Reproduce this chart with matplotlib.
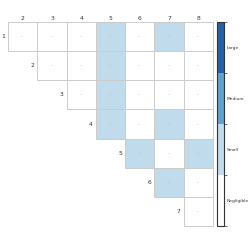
import numpy as np
import matplotlib
matplotlib.use("Agg")
import matplotlib.pyplot as plt
from matplotlib.colors import ListedColormap, BoundaryNorm
from matplotlib.patches import Rectangle

row_labels = ["1", "2", "3", "4", "5", "6", "7"]
col_labels = ["2", "3", "4", "5", "6", "7", "8"]
levels = ["Negligible", "Small", "Medium", "Large"]
level_colors = ["#ffffff", "#c0dbeb", "#5fa2ce", "#2362ab"]
# effect level per cell (row i, column j); None = not shown (lower triangle)
effect = [
    [0, 0, 0, 1, 0, 1, 0],
    [None, 0, 0, 1, 0, 0, 0],
    [None, None, 0, 1, 0, 0, 0],
    [None, None, None, 1, 0, 1, 0],
    [None, None, None, None, 1, 0, 1],
    [None, None, None, None, None, 1, 0],
    [None, None, None, None, None, None, 0],
]
cell_text = "--"

fig = plt.figure(figsize=(2.49, 2.49), dpi=100)
ax = fig.add_axes([8/249, 1-226/249, 205/249, 204/249])
nr, nc = len(row_labels), len(col_labels)
for i in range(nr):
    for j in range(nc):
        v = effect[i][j]
        if v is None:
            continue
        ax.add_patch(Rectangle((j, i), 1, 1, facecolor=level_colors[v],
                               edgecolor="#cccccc", linewidth=0.7, clip_on=False))
        ax.text(j+0.5, i+0.5, cell_text, ha="center", va="center", fontsize=3, color="#aaaaaa")
    first = next(j for j in range(nc) if effect[i][j] is not None)
    ax.text(first-0.1, i+0.5, row_labels[i], ha="right", va="center", fontsize=4.3, color="#333333")
ax.set_xlim(0, nc)
ax.set_ylim(nr, 0)
ax.set_xticks(np.arange(nc)+0.5)
ax.set_xticklabels(col_labels, fontsize=4.3, color="#333333")
ax.xaxis.tick_top()
ax.tick_params(axis="x", length=0, pad=1)
ax.set_yticks([])
for s in ax.spines.values():
    s.set_visible(False)

cmap = ListedColormap(level_colors)
norm = BoundaryNorm(np.arange(len(levels)+1), cmap.N)
cax = fig.add_axes([217/249, 1-226/249, 7/249, 204/249])
sm = matplotlib.cm.ScalarMappable(norm=norm, cmap=cmap)
cb = fig.colorbar(sm, cax=cax)
cb.outline.set_edgecolor("#333333")
cb.outline.set_linewidth(0.8)
cb.set_ticks(np.arange(len(levels))+0.5)
cb.set_ticklabels(levels)
cax.tick_params(axis="y", which="major", length=0, labelsize=3.2, pad=2, labelcolor="#333333")
cax.set_yticks(np.arange(len(levels)+1), minor=True)
cax.tick_params(axis="y", which="minor", length=2, width=0.5, color="#333333")

fig.savefig("out.png", dpi=100)
